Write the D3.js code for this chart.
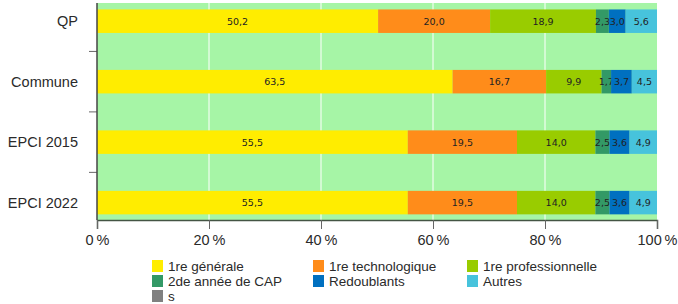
<!DOCTYPE html>
<html>
<head>
<meta charset="utf-8">
<script src="https://cdn.jsdelivr.net/npm/d3@7"></script>
<style>
  body { margin: 0; background: #fff; }
  svg { display: block; }
</style>
</head>
<body>
<div id="chart"></div>
<script>
var categories = ["QP", "Commune", "EPCI 2015", "EPCI 2022"]
var seriesNames = ["1re générale", "1re technologique", "1re professionnelle", "2de année de CAP", "Redoublants", "Autres", "s"]
var colors = ["#ffed00", "#ff8c1a", "#99cc00", "#339966", "#0070c0", "#47c3dc", "#808080"]
var generale = [50.2, 63.5, 55.5, 55.5]
var techno = [20.0, 16.7, 19.5, 19.5]
var pro = [18.9, 9.9, 14.0, 14.0]
var cap = [2.3, 1.7, 2.5, 2.5]
var redoublants = [3.0, 3.7, 3.6, 3.6]
var autres = [5.6, 4.5, 4.9, 4.9]
var s = [0, 0, 0, 0]
var xTicks = [0, 20, 40, 60, 80, 100]

var width = 678, height = 304
var plot = { left: 97, right: 657, top: 3, bottom: 220 }

var svg = d3.select("#chart").append("svg").attr("width", width).attr("height", height)

var x = d3.scaleLinear().domain([0, 100]).range([plot.left, plot.right])
var y = d3.scalePoint().domain(categories).range([21.2, 202.6])
var barH = 23.5

// background
svg.append("rect").attr("x", plot.left).attr("y", plot.top)
    .attr("width", plot.right - plot.left).attr("height", plot.bottom - plot.top)
    .style("fill", "#a6f5a6")

// grid
svg.selectAll(".grid").data(xTicks.slice(1, -1)).enter().append("line")
    .attr("x1", function(d) { return x(d) }).attr("x2", function(d) { return x(d) })
    .attr("y1", plot.top).attr("y2", plot.bottom)
    .style("stroke", "#fff").style("stroke-width", 1)

// stacked data
var series = [generale, techno, pro, cap, redoublants, autres, s]
var rows = categories.map(function(c, i) {
    var o = { cat: c }
    seriesNames.forEach(function(n, j) { o[n] = series[j][i] })
    return o
})
var stack = d3.stack().keys(seriesNames)(rows)

var layers = svg.selectAll(".layer").data(stack).enter().append("g")
    .style("fill", function(d, i) { return colors[i] })

layers.selectAll("rect").data(function(d) { return d }).enter().append("rect")
    .attr("x", function(d) { return x(d[0]) })
    .attr("width", function(d) { return x(d[1]) - x(d[0]) })
    .attr("y", function(d) { return y(d.data.cat) - barH / 2 })
    .attr("height", barH)

layers.selectAll("text").data(function(d) { return d.filter(function(e) { return e[1] - e[0] > 0 }) })
    .enter().append("text")
    .attr("x", function(d) { return (x(d[0]) + x(d[1])) / 2 })
    .attr("y", function(d) { return y(d.data.cat) + 3.5 })
    .attr("text-anchor", "middle")
    .style("fill", "#222").style("font-family", "DejaVu Sans").style("font-size", "9.5px")
    .text(function(d) { return (d[1] - d[0]).toFixed(1).replace(".", ",") })

// left axis
var mids = categories.slice(1).map(function(c, i) { return (y(categories[i]) + y(c)) / 2 })
svg.selectAll(".ytick").data(mids).enter().append("line")
    .attr("x1", plot.left - 8).attr("x2", plot.left)
    .attr("y1", function(d) { return d }).attr("y2", function(d) { return d })
    .style("stroke", "#666").style("stroke-width", 1)
svg.append("line").attr("x1", plot.left).attr("x2", plot.left)
    .attr("y1", plot.top).attr("y2", plot.bottom)
    .style("stroke", "#444").style("stroke-width", 1.5)

svg.selectAll(".ylab").data(categories).enter().append("text")
    .attr("x", 78).attr("y", function(d) { return y(d) + 5 })
    .attr("text-anchor", "end")
    .style("font-family", "Liberation Sans").style("font-size", "14.5px").style("fill", "#2a2a2a")
    .text(function(d) { return d })

// bottom axis
var xAxis = d3.axisBottom(x).tickValues(xTicks).tickSize(9).tickFormat(function(d) { return d + "\u202f%" })
var gx = svg.append("g").attr("transform", "translate(0," + plot.bottom + ")").call(xAxis)
gx.select(".domain").style("stroke", "#445544").style("stroke-width", 1.5)
gx.selectAll(".tick line").style("stroke", "#666")
gx.selectAll(".tick text").attr("y", 15)
    .style("font-family", "Liberation Sans").style("font-size", "14.5px").style("fill", "#2a2a2a")

// legend
var legX = [152, 313, 467]
var legend = svg.selectAll(".legend").data(seriesNames).enter().append("g")
    .attr("transform", function(d, i) { return "translate(" + legX[i % 3] + "," + (260 + Math.floor(i / 3) * 15) + ")" })
legend.append("rect").attr("width", 11).attr("height", 12)
    .style("fill", function(d, i) { return colors[i] })
legend.append("text").attr("x", 16).attr("y", 11)
    .style("font-family", "Liberation Sans").style("font-size", "13.5px").style("fill", "#2a2a2a")
    .text(function(d) { return d })
</script>
</body>
</html>
